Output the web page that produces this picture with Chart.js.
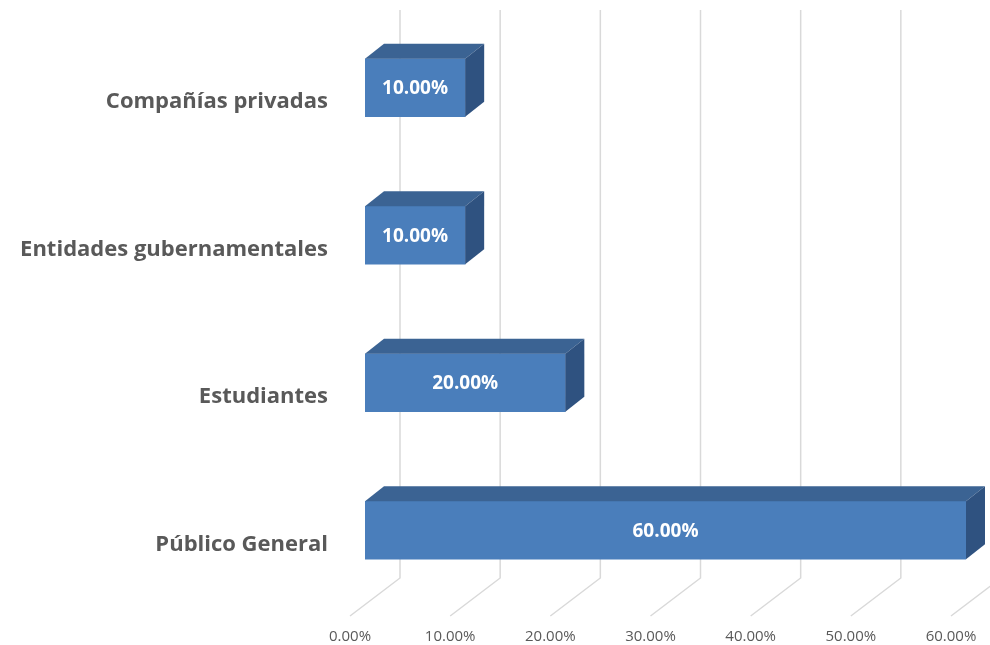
<!DOCTYPE html>
<html>
<head>
<meta charset="utf-8">
<script src="https://cdn.jsdelivr.net/npm/chart.js@4"></script>
<style>
  html, body { margin: 0; padding: 0; background: #fff; }
  #wrap { width: 990px; height: 645px; }
</style>
</head>
<body>
<div id="wrap"><canvas id="barChart"></canvas></div>
<script>
const categories = ['Compañías privadas', 'Entidades gubernamentales', 'Estudiantes', 'Público General'];
const shares = [10, 10, 20, 60];
const xTicks = [0, 10, 20, 30, 40, 50, 60];

const frontColor = '#4a7ebb';
const topColor = '#3b6393';
const sideColor = '#2f5280';
const gridColor = '#d9d9d9';

// depth of the 3d box (bar) and of the floor
const barDx = 19, barDy = -15;
const backDx = 35, frontDx = -15;

const box3d = {
  id: 'box3d',
  beforeDatasetsDraw(chart) {
    const ctx = chart.ctx;
    const xs = chart.scales.x;
    const area = chart.chartArea;
    ctx.save();
    ctx.strokeStyle = gridColor;
    ctx.lineWidth = 1.5;
    xTicks.forEach(v => {
      const px = xs.getPixelForValue(v);
      ctx.beginPath();
      ctx.moveTo(px + backDx, area.top - 4);
      ctx.lineTo(px + backDx, area.bottom - 26);
      ctx.lineTo(px + frontDx, area.bottom + 12);
      ctx.stroke();
    });
    ctx.restore();
  },
  afterDatasetsDraw(chart) {
    const ctx = chart.ctx;
    const meta = chart.getDatasetMeta(0);
    ctx.save();
    meta.data.forEach((bar, i) => {
      const top = bar.y - bar.height / 2;
      const bottom = bar.y + bar.height / 2;
      const x0 = bar.base, x1 = bar.x;
      // top face
      ctx.fillStyle = topColor;
      ctx.beginPath();
      ctx.moveTo(x0, top);
      ctx.lineTo(x0 + barDx, top + barDy);
      ctx.lineTo(x1 + barDx, top + barDy);
      ctx.lineTo(x1, top);
      ctx.closePath();
      ctx.fill();
      // side face
      ctx.fillStyle = sideColor;
      ctx.beginPath();
      ctx.moveTo(x1, top);
      ctx.lineTo(x1 + barDx, top + barDy);
      ctx.lineTo(x1 + barDx, bottom + barDy);
      ctx.lineTo(x1, bottom);
      ctx.closePath();
      ctx.fill();
      // value label
      ctx.fillStyle = '#ffffff';
      ctx.font = 'bold 19px "Open Sans"';
      ctx.textAlign = 'center';
      ctx.textBaseline = 'middle';
      ctx.fillText(shares[i].toFixed(2) + '%', (x0 + x1) / 2, bar.y + 1);
    });
    ctx.restore();
  }
};

const barChart = new Chart(document.getElementById('barChart'), {
  type: 'bar',
  data: {
    labels: categories,
    datasets: [{
      label: 'Público',
      data: shares,
      backgroundColor: frontColor,
      borderWidth: 0,
      barThickness: 58
    }]
  },
  options: {
    indexAxis: 'y',
    responsive: true,
    maintainAspectRatio: false,
    animation: false,
    layout: { padding: { top: 14, right: 24, left: 0, bottom: 0 } },
    plugins: {
      legend: { display: false },
      tooltip: { enabled: false }
    },
    scales: {
      x: {
        min: 0,
        max: 60,
        afterFit: s => { s.height = 41; s.paddingLeft = 0; s.paddingRight = 0; },
        afterBuildTicks: s => { s.ticks = xTicks.map(v => ({ value: v })); },
        grid: { display: false, drawTicks: false },
        border: { display: false },
        ticks: {
          color: '#595959',
          font: { family: 'Open Sans', size: 15 },
          padding: 24,
          labelOffset: -15,
          maxRotation: 0,
          callback: v => v.toFixed(2) + '%'
        }
      },
      y: {
        afterFit: s => { s.width = 365; s.paddingTop = 0; s.paddingBottom = 0; },
        grid: { display: false, drawTicks: false },
        border: { display: false },
        ticks: {
          color: '#595959',
          font: { family: 'Open Sans', size: 22, weight: 'bold' },
          padding: 37,
          labelOffset: 14
        }
      }
    }
  },
  plugins: [box3d]
});
</script>
</body>
</html>
